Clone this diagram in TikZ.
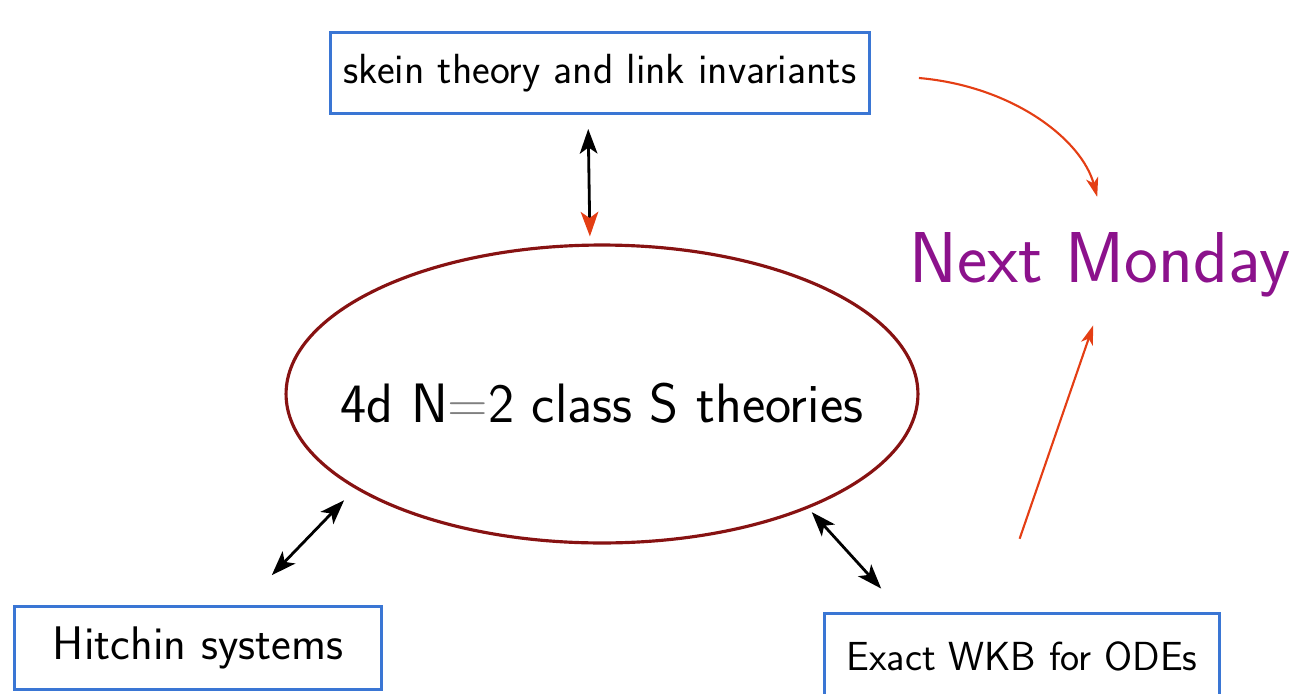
\documentclass[tikz,border=0pt]{standalone}
\usepackage{fontspec}
\usetikzlibrary{arrows.meta,shapes.geometric}
\definecolor{boxblue}{RGB}{58,118,212}
\definecolor{ovalred}{RGB}{135,18,18}
\definecolor{arrred}{RGB}{228,62,20}
\definecolor{monpurple}{RGB}{140,18,140}

\begin{document}
\begin{tikzpicture}[x=0.02cm, y=-0.02cm,
  topic/.style={draw=boxblue, line width=1.7pt, inner sep=0pt, font=\sffamily},
  dbl/.style={line width=1.6pt, {Stealth[length=14pt,width=10pt,inset=3.5pt]}-{Stealth[length=14pt,width=10pt,inset=3.5pt]}},
  nxt/.style={draw=arrred, line width=1.2pt, -{Stealth[length=11pt,width=7pt,inset=3pt]}}]
\useasboundingbox (0,0) rectangle (1298,693);
% boxes and the oval
\node[topic, minimum width=10.78cm, minimum height=1.62cm, font=\sffamily\fontsize{24}{28}\selectfont] (skein) at (600,73) {skein theory and link invariants};
\node[draw=ovalred, line width=1.8pt, ellipse, inner sep=0pt, minimum width=12.64cm, minimum height=5.96cm,
  label={[yshift=-0.18cm, font=\sffamily\fontsize{31.6}{36}\selectfont]center:4d N{\color{gray}=}2 class S theories}] (classS) at (602,394) {};
\node[topic, minimum width=7.36cm, minimum height=1.66cm, font=\sffamily\fontsize{26.8}{32}\selectfont] (hitchin) at (198,648) {Hitchin systems};
\node[topic, minimum width=7.9cm, minimum height=1.72cm, font=\sffamily\fontsize{23.1}{28}\selectfont] (wkb) at (1022,656) {Exact WKB for ODEs};
\node[text=monpurple, inner sep=0pt, anchor=base, font=\sffamily\fontsize{41}{48}\selectfont] (monday) at (1100,282) {Next Monday};
% double arrows to the oval
\draw[dbl, {Stealth[length=14pt,width=10pt,inset=3.5pt]}-{Stealth[length=14pt,width=10pt,inset=3.5pt,color=arrred]}, shorten <=0.28cm, shorten >=0.14cm] ([xshift=-0.24cm]skein.south) -- ([xshift=-0.24cm]classS.north);
\draw[dbl, shorten <=0.83cm, shorten >=0.32cm] ([xshift=0.9cm]hitchin.north) -- (classS.201);
\draw[dbl, shorten <=0.1cm, shorten >=0.62cm] (classS.331) -- ([xshift=-2.4cm]wkb.north);
% red arrows to next monday
\draw[nxt, shorten >=0.72cm] ([xshift=0.96cm,yshift=-0.1cm]skein.east) to[out=-5, in=105] ([xshift=0.13cm]monday.north);
\draw[nxt, shorten <=1.54cm, shorten >=0.6cm] ([xshift=-0.55cm]wkb.north) -- ([xshift=0.06cm]monday.south);
\end{tikzpicture}
\end{document}
